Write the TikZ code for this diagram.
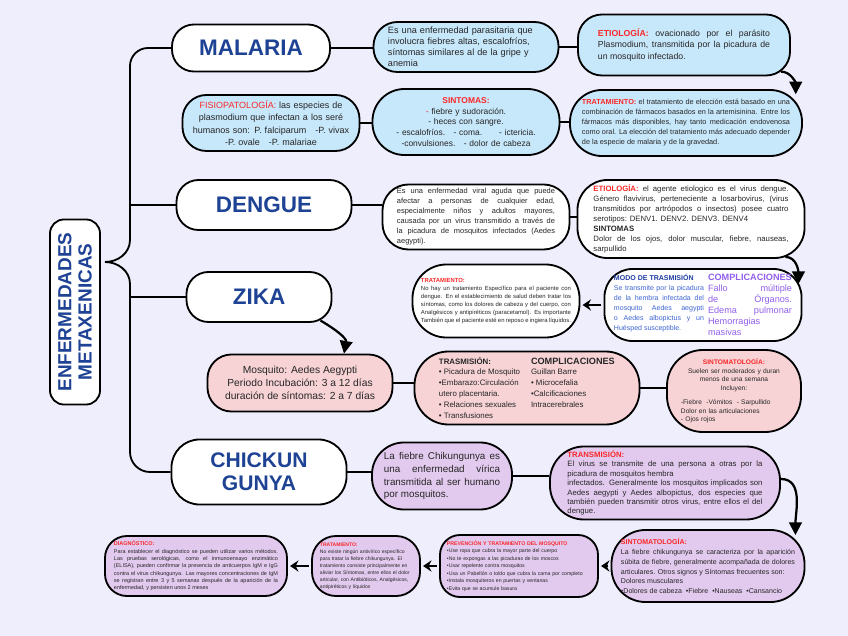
\documentclass[tikz,border=0pt]{standalone}
\usepackage{fontspec}
\setmainfont{Liberation Sans}
\usetikzlibrary{arrows.meta,positioning}
\setlength{\parindent}{0pt}
\hyphenpenalty=10000
\exhyphenpenalty=10000
\definecolor{bgback}{RGB}{239,238,252}
\definecolor{titleblue}{RGB}{30,66,148}
\definecolor{malblue}{RGB}{199,231,250}
\definecolor{zikpink}{RGB}{247,211,214}
\definecolor{chikpurple}{RGB}{226,201,238}
\definecolor{lblred}{RGB}{250,40,40}
\definecolor{modoblue}{RGB}{30,60,160}
\definecolor{modotext}{RGB}{60,100,210}
\definecolor{complviolet}{RGB}{145,95,235}
\newcommand{\redlbl}[1]{{\color{lblred}\bfseries #1}}

\begin{document}
\begin{tikzpicture}[x=0.025cm, y=-0.025cm,
  box/.style={draw=black, line width=1.3pt, rounded corners=0.6cm, inner sep=0pt, text=black!85},
  titlebox/.style={box, fill=white, text=titleblue, align=center, rounded corners=0.55cm, font=\fontsize{16}{17}\selectfont\bfseries},
  bluebox/.style={box, fill=malblue},
  pinkbox/.style={box, fill=zikpink},
  lilabox/.style={box, fill=chikpurple},
  whitebox/.style={box, fill=white},
  link/.style={line width=1.3pt},
  flow/.style={line width=1.6pt, -{Triangle[length=9pt,width=9pt]}},
  back/.style={line width=1.8pt, -{Stealth[length=6pt,width=8pt]}, shorten >=1.5pt, shorten <=1.5pt}]

  % background
  \fill[bgback] (0,0) rectangle (848,636);
  \useasboundingbox (0,0) rectangle (848,636);

  % main title and diseases
  \node[titlebox, rotate=90, rounded corners=0.35cm, minimum width=4.625cm, minimum height=1.25cm, font=\fontsize{13.5}{14.5}\selectfont\bfseries] (enf) at (75,312) {ENFERMEDADES\\METAXENICAS};
  \node[titlebox, minimum width=3.95cm, minimum height=1.175cm] (malaria) at (251,48) {MALARIA};
  \node[titlebox, minimum width=4.375cm, minimum height=1.25cm] (dengue) at (264,205) {DENGUE};
  \node[titlebox, minimum width=3.625cm, minimum height=1.25cm] (zika) at (259,297) {ZIKA};
  \node[titlebox, minimum width=4.375cm, minimum height=1.625cm, rounded corners=0.7cm, font=\fontsize{15}{16.5}\selectfont\bfseries] (chik) at (259,472) {CHICKUN\\GUNYA};

  % brace
  \coordinate (tip) at (105,262);
  \coordinate (bd) at (130,205);
  \coordinate (bz) at (130,297);
  \draw[link] (malaria.west) -- (148,48) to[out=180,in=90] (130,66) -- (130,240) to[out=-90,in=0] (tip);
  \draw[link] (tip) to[out=0,in=90] (130,284) -- (130,452) to[out=-90,in=180] (150,472) -- (chik.west);
  \draw[link] (bd) -- (dengue.west);
  \draw[link] (bz) -- (zika.west);

  % malaria
  \node[bluebox, minimum width=4.625cm, minimum height=1.25cm, text width=3.9cm, align=left, font=\fontsize{6.5}{7.8}\selectfont] (m1) at (466,47) {Es una enfermedad parasitaria que involucra fiebres altas, escalofríos, síntomas similares al de la gripe y anemia};
  \node[bluebox, minimum width=5.3cm, minimum height=1.525cm, text width=4.3cm, align=justify, font=\fontsize{6.2}{8.4}\selectfont] (metio) at (684,45) {\redlbl{ETIOLOGÍA:} ovacionado por el parásito Plasmodium, transmitida por la picadura de un mosquito infectado.};
  \node[bluebox, minimum width=4.425cm, minimum height=1.4cm, text width=4.2cm, align=center, font=\fontsize{6.4}{8.8}\selectfont] (mfisio) at (271,123) {{\color{lblred}FISIOPATOLOGÍA:} las especies de\\plasmodium que infectan a los seré\\humanos son: P. falciparum\quad -P. vivax\\-P. ovale\quad -P. malariae};
  \node[bluebox, minimum width=4.675cm, minimum height=1.65cm, rounded corners=0.8cm, text width=4.2cm, align=center, font=\fontsize{6}{7.6}\selectfont] (msint) at (466,122) {\redlbl{SINTOMAS:}\\{\color{lblred}-} fiebre y sudoración.\\- heces con sangre.\\- escalofríos.\quad - coma.\qquad - ictericia.\\-convulsiones.\quad - dolor de cabeza};
  \node[bluebox, minimum width=5.8cm, minimum height=1.65cm, rounded corners=0.8cm, text width=5.2cm, align=justify, font=\fontsize{5.2}{7.1}\selectfont] (mtrat) at (686,123) {\redlbl{TRATAMIENTO:} el tratamiento de elección está basado en una combinación de fármacos basados en la artemisinina. Entre los fármacos más disponibles, hay tanto medicación endovenosa como oral. La elección del tratamiento más adecuado depender de la especie de malaria y de la gravedad.};

  \draw[link] (malaria.east) -- (malaria.east -| m1.west);
  \draw[link] (m1.east) -- (m1.east -| metio.west);
  \draw[link] (mfisio.east) -- (mfisio.east -| msint.west);
  \draw[link] (msint.east) -- (msint.east -| mtrat.west);
  \draw[flow] ([xshift=-0.25cm,yshift=0.12cm]metio.south east) to[out=0,in=90] ([xshift=-0.18cm,yshift=-0.13cm]mtrat.north east);

  % dengue
  \node[whitebox, minimum width=4.675cm, minimum height=1.625cm, rounded corners=0.65cm, text width=3.95cm, align=justify, font=\fontsize{5.3}{7.1}\selectfont] (d1) at (476,217) {Es una enfermedad viral aguda que puede afectar a personas de cualquier edad, especialmente niños y adultos mayores, causada por un virus transmitido a través de la picadura de mosquitos infectados (Aedes aegypti).};
  \node[whitebox, minimum width=5.675cm, minimum height=1.95cm, rounded corners=0.75cm, text width=4.875cm, align=justify, font=\fontsize{5.5}{7.1}\selectfont] (detio) at (691,219) {\redlbl{ETIOLOGÍA:} el agente etiologico es el virus dengue. Género flavivirus, perteneciente a losarbovirus, (virus transmitidos por artrópodos o insectos) posee cuatro serotipos: DENV1. DENV2. DENV3. DENV4\\{\bfseries SINTOMAS}\\Dolor de los ojos, dolor muscular, fiebre, nauseas, sarpullido};
  \node[whitebox, minimum width=4.925cm, minimum height=1.8cm, rounded corners=0.7cm] (dmodo) at (703,305) {\parbox[t]{2.25cm}{\fontsize{5}{7.1}\selectfont\color{modotext}{\color{modoblue}\bfseries MODO DE TRASMISIÓN}\\Se transmite por la picadura de la hembra infectada del mosquito Aedes aegypti o Aedes albopictus y un Huésped susceptible.}\hspace{0.1cm}\parbox[t]{2.1cm}{\fontsize{6.5}{7.8}\selectfont\color{complviolet}{\bfseries COMPLICACIONES}\\Fallo múltiple de Órganos. Edema pulmonar Hemorragias masivas}};
  \node[whitebox, minimum width=4.175cm, minimum height=1.825cm, rounded corners=0.85cm, text width=3.75cm, align=justify, font=\fontsize{4.2}{5.7}\selectfont] (dtrat) at (496,301) {\redlbl{TRATAMIENTO:}\\No hay un tratamiento Específico para el paciente con dengue. En el establecimiento de salud deben tratar los síntomas, como los dolores de cabeza y del cuerpo, con Analgésicos y antipiréticos (paracetamol). Es importante También que el paciente esté en reposo e ingiera líquidos.};

  \draw[link] (dengue.east) -- (dengue.east -| d1.west);
  \draw[link] (d1.east) -- (d1.east -| detio.west);
  \draw[flow] ([xshift=-0.5cm,yshift=0.05cm]detio.south east) to[out=0,in=90] ([xshift=-0.1cm,yshift=-0.4cm]dmodo.north east);
  \draw[back] (dmodo.west) -- (dmodo.west -| dtrat.east);

  % zika
  \node[pinkbox, minimum width=4.625cm, minimum height=1.425cm, align=center, font=\fontsize{7.3}{9.2}\selectfont] (zmosq) at (300,383) {Mosquito: Aedes Aegypti\\Periodo Incubación: 3 a 12 días\\duración de síntomas: 2 a 7 días};
  \node[pinkbox, minimum width=5.625cm, minimum height=1.825cm, rounded corners=0.85cm] (ztras) at (527,388) {\parbox[t]{2.2cm}{\fontsize{5.6}{7.8}\selectfont{\bfseries TRASMISIÓN:}\\• Picadura de Mosquito\\•Embarazo:Circulación\\utero placentaria.\\• Relaciones sexuales\\• Transfusiones}\hspace{0.1cm}\parbox[t]{2.1cm}{\fontsize{5.6}{7.8}\selectfont{\fontsize{6.5}{7.8}\selectfont\bfseries COMPLICACIONES}\\Guillan Barre\\• Microcefalia\\•Calcificaciones\\Intracerebrales}};
  \node[pinkbox, minimum width=3.35cm, minimum height=2.05cm, rounded corners=0.9cm, text width=2.65cm, align=left, font=\fontsize{4.7}{6}\selectfont] (zsint) at (734,391) {\parbox{2.65cm}{\centering\redlbl{SINTOMATOLOGÍA:}\\Suelen ser moderados y duran\\menos de una semana\\Incluyen:}\\[5pt]-Fiebre\ \ -Vómitos\ \ - Sarpullido\\Dolor en las articulaciones\\- Ojos rojos};

  \draw[flow] ([xshift=-0.3cm,yshift=0.06cm]zika.south east) to[out=-30,in=80] ([xshift=1.1cm]zmosq.north);
  \draw[link] (zmosq.east) -- (zmosq.east -| ztras.west);
  \draw[link] (ztras.east) -- (ztras.east -| zsint.west);

  % chikungunya
  \node[lilabox, minimum width=3.5cm, minimum height=1.675cm, rounded corners=0.8cm, text width=2.9cm, align=justify, font=\fontsize{7}{9.2}\selectfont] (c1) at (442,476) {La fiebre Chikungunya es una enfermedad vírica transmitida al ser humano por mosquitos.};
  \node[lilabox, minimum width=5.75cm, minimum height=1.825cm, rounded corners=0.85cm, text width=4.875cm, align=justify, font=\fontsize{5.5}{6.7}\selectfont] (ctrans) at (665,483) {\redlbl{TRANSMISIÓN:}\\El virus se transmite de una persona a otras por la picadura de mosquitos hembra\\infectados. Generalmente los mosquitos implicados son Aedes aegypti y Aedes albopictus, dos especies que también pueden transmitir otros virus, entre ellos el del dengue.};
  \node[lilabox, minimum width=4.825cm, minimum height=1.8cm, rounded corners=0.85cm, text width=4.35cm, align=justify, font=\fontsize{5}{7}\selectfont] (csint) at (708,566) {\redlbl{SINTOMATOLOGÍA:}\\La fiebre chikungunya se caracteriza por la aparición súbita de fiebre, generalmente acompañada de dolores articulares. Otros signos y Síntomas frecuentes son:\\Dolores musculares\\•Dolores de cabeza\ \ •Fiebre\ \ •Nauseas\ \ •Cansancio};
  \node[lilabox, minimum width=3.95cm, minimum height=1.55cm, rounded corners=0.5cm, text width=3.6cm, align=left, font=\fontsize{3.7}{5.3}\selectfont] (cprev) at (519,566) {\redlbl{PREVENCIÓN Y TRATAMIENTO DEL MOSQUITO}\\•Use ropa que cubra la mayor parte del cuerpo\\•No te expongas a las picaduras de los moscos\\•Usar repelente contra mosquitos\\•Usa un Pabellón o toldo que cubra la cama por completo\\•Instala mosquiteros en puertas y ventanas\\•Evita que se acumule basura};
  \node[lilabox, minimum width=2.7cm, minimum height=1.5cm, rounded corners=0.6cm, text width=2.3cm, align=left, font=\fontsize{3.6}{5}\selectfont] (ctrat) at (366,566) {\redlbl{TRATAMIENTO:}\\No existe ningún antivírico específico para tratar la fiebre chikungunya. El tratamiento consiste principalmente en aliviar los Síntomas, entre ellos el dolor articular, con Antibióticos, Analgésicos, antipiréticos y líquidos};
  \node[lilabox, minimum width=4.55cm, minimum height=1.5cm, rounded corners=0.55cm, text width=4.1cm, align=justify, font=\fontsize{3.9}{5.2}\selectfont] (cdiag) at (196,566) {\redlbl{DIAGNÓSTICO:}\\Para establecer el diagnóstico se pueden utilizar varios métodos. Las pruebas serológicas, como el inmunoensayo enzimático (ELISA), pueden confirmar la presencia de anticuerpos IgM e IgG contra el virus chikungunya. Las mayores concentraciones de IgM se registran entre 3 y 5 semanas después de la aparición de la enfermedad, y persisten unos 2 meses};

  \draw[link] (chik.east) -- (chik.east -| c1.west);
  \draw[link] (c1.east) -- (c1.east -| ctrans.west);
  \draw[flow] ([yshift=0.1cm]ctrans.east) to[out=0,in=90] ([xshift=-0.25cm,yshift=-0.15cm]csint.north east);
  \draw[back] (csint.west) -- (csint.west -| cprev.east);
  \draw[back] (cprev.west) -- (cprev.west -| ctrat.east);
  \draw[back] (ctrat.west) -- (ctrat.west -| cdiag.east);
\end{tikzpicture}
\end{document}
